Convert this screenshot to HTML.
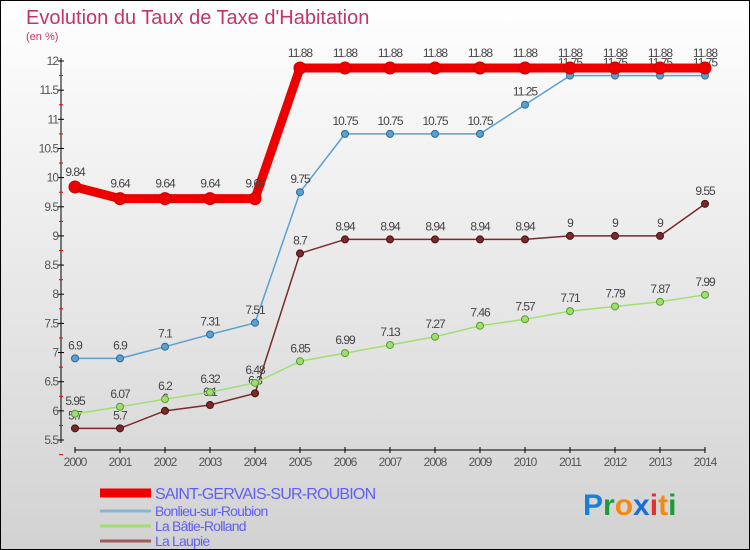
<!DOCTYPE html>
<html><head><meta charset="utf-8"><style>
body{margin:0;width:750px;height:550px;overflow:hidden;font-family:"Liberation Sans",sans-serif}
svg{display:block}
</style></head><body>
<svg id="c" width="750" height="550">
<defs><linearGradient id="bg" x1="0" y1="0" x2="0" y2="1"><stop offset="0" stop-color="#ffffff"/><stop offset="1" stop-color="#d2d2d2"/></linearGradient></defs>
<rect x="0.5" y="0.5" width="749" height="549" fill="url(#bg)" stroke="#000"/>
<text x="26" y="24" font-size="20" fill="#c4336a">Evolution du Taux de Taxe d'Habitation</text>
<text x="26" y="40" font-size="11" fill="#c4336a">(en %)</text>
<g id="axes"></g><g id="series"></g><g id="legend"></g>
<text x="583" y="515" font-size="30" font-weight="bold"><tspan fill="#1a7fd6">P</tspan><tspan fill="#1a9a3a">r</tspan><tspan fill="#f08a10">o</tspan><tspan fill="#1a6fd6">x</tspan><tspan fill="#e03030">i</tspan><tspan fill="#f08a10">t</tspan><tspan fill="#1a9a3a">i</tspan></text>
</svg>
<script>
const years=[2000,2001,2002,2003,2004,2005,2006,2007,2008,2009,2010,2011,2012,2013,2014];
const yTicks=[5.5,6,6.5,7,7.5,8,8.5,9,9.5,10,10.5,11,11.5,12];
const saint=[9.84,9.64,9.64,9.64,9.64,11.88,11.88,11.88,11.88,11.88,11.88,11.88,11.88,11.88,11.88];
const bonlieu=[6.9,6.9,7.1,7.31,7.51,9.75,10.75,10.75,10.75,10.75,11.25,11.75,11.75,11.75,11.75];
const batie=[5.95,6.07,6.2,6.32,6.48,6.85,6.99,7.13,7.27,7.46,7.57,7.71,7.79,7.87,7.99];
const laupie=[5.7,5.7,6,6.1,6.3,8.7,8.94,8.94,8.94,8.94,8.94,9,9,9,9.55];
const names=["SAINT-GERVAIS-SUR-ROUBION","Bonlieu-sur-Roubion","La Bâtie-Rolland","La Laupie"];
const NS="http://www.w3.org/2000/svg";
const X=i=>75+i*45;
const Y=v=>440-(v-5.5)*(379/6.5);
function mk(p,t,a){const e=document.createElementNS(NS,t);for(const k in a)e.setAttribute(k,a[k]);p.appendChild(e);return e;}
const ax=document.getElementById('axes');
const yl=mk(ax,'line',{x1:61,y1:58,x2:61,y2:443,stroke:'#000'});


yTicks.forEach(v=>{
 mk(ax,'line',{x1:58,x2:64,y1:Y(v),y2:Y(v),stroke:'#000'});
 mk(ax,'line',{x1:59,x2:63,y1:Y(v)+14.6,y2:Y(v)+14.6,stroke:'#e00'});
 const t=mk(ax,'text',{x:58,y:Y(v)+4,'font-size':12,'text-anchor':'end',fill:'#555','letter-spacing':'-1'});
 t.textContent=String(v);
 
 
});
const xl=mk(ax,'line',{x1:75,y1:450,x2:705,y2:450,stroke:'#000'});


years.forEach((y,i)=>{
 mk(ax,'line',{x1:X(i),x2:X(i),y1:447,y2:453,stroke:'#000'});
 const t=mk(ax,'text',{x:X(i),y:466,'font-size':12,'text-anchor':'middle',fill:'#555','letter-spacing':'-1'});
 t.textContent=y;
 
 
});
const sg=document.getElementById('series');
function draw(vals,col,dark,w,r,key){
 const g=mk(sg,'g',{});
 
 
 mk(g,'polyline',{points:vals.map((v,i)=>X(i)+','+Y(v)).join(' '),fill:'none',stroke:col,'stroke-width':w,'stroke-linejoin':'round'});
 vals.forEach((v,i)=>{
  const c=mk(g,'circle',{cx:X(i),cy:Y(v),r:r,fill:col,stroke:dark,'stroke-width':1});
  
  
  const t=mk(g,'text',{x:X(i),y:Y(v)-9-(r>4?2:0),'font-size':12,'text-anchor':'middle',fill:'#444','letter-spacing':'-1'});
  t.textContent=String(v);
  
  
 });
}
draw(laupie,'#7a2a2a','#4a1010',1.5,3.5,'laupie');
draw(batie,'#9ee070','#5a9a30',1.5,3.5,'batie');
draw(bonlieu,'#5aa0d0','#2a6a9a',1.5,3.5,'bonlieu');
draw(saint,'#ee0000','#cc0000',9,6,'saint');
const lg=document.getElementById('legend');
const lc=['#ee0000','#8ab4d0','#9ee070','#a05a5a'],lw=[9,3,3,3];
names.forEach((n,i)=>{
 const y=493+i*15;
 mk(lg,'line',{x1:100,x2:151,y1:y+(i?3:0),y2:y+(i?3:0),stroke:lc[i],'stroke-width':lw[i]});
 const t=mk(lg,'text',{x:155,y:y+(i===0?6:8),'font-size':i===0?16:14,fill:'#6060f0','letter-spacing':'-0.8'});
 t.textContent=n;
 
 
});
</script>
</body></html>
